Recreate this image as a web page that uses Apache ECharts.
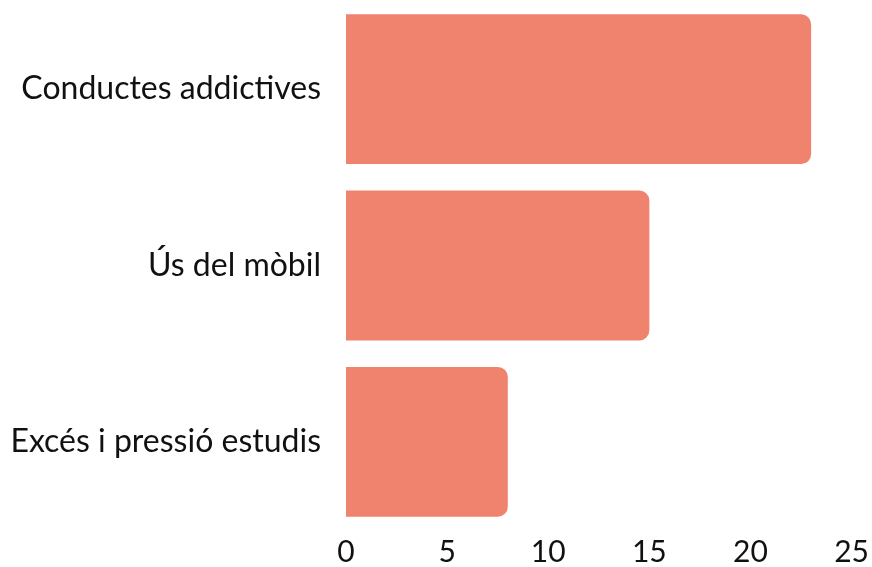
<!DOCTYPE html>
<html>
<head>
<meta charset="utf-8">
<script src="https://cdn.jsdelivr.net/npm/echarts@6/dist/echarts.min.js"></script>
<style>
  html, body { margin: 0; padding: 0; background: #fff; }
  #chart { width: 872px; height: 567px; }
</style>
</head>
<body>
<div id="chart"></div>
<script>
  // categories from top to bottom
  let categories = ['Conductes addictives', 'Ús del mòbil', 'Excés i pressió estudis'];
  let values = [23, 15, 8];
  let xTicks = [0, 5, 10, 15, 20, 25];

  let options = {
    animation: false,
    textStyle: { fontFamily: 'Lato' },
    grid: {
      left: 346,
      right: 20,
      top: 1,
      bottom: 32
    },
    xAxis: {
      type: 'value',
      min: xTicks[0],
      max: xTicks[xTicks.length - 1],
      interval: 5,
      axisLine: { show: false },
      axisTick: { show: false },
      splitLine: { show: false },
      axisLabel: {
        color: '#111',
        fontSize: 30,
        margin: 7
      }
    },
    yAxis: {
      type: 'category',
      inverse: true,
      data: categories,
      axisLine: { show: false },
      axisTick: { show: false },
      axisLabel: {
        color: '#111',
        fontSize: 32,
        margin: 25
      }
    },
    series: [
      {
        type: 'bar',
        data: values,
        barCategoryGap: '15%',
        itemStyle: {
          color: '#EF836E',
          borderRadius: [0, 10, 10, 0]
        }
      }
    ]
  };
  let myChart = echarts.init(document.getElementById('chart'));
  myChart.setOption(options);
</script>
</body>
</html>
